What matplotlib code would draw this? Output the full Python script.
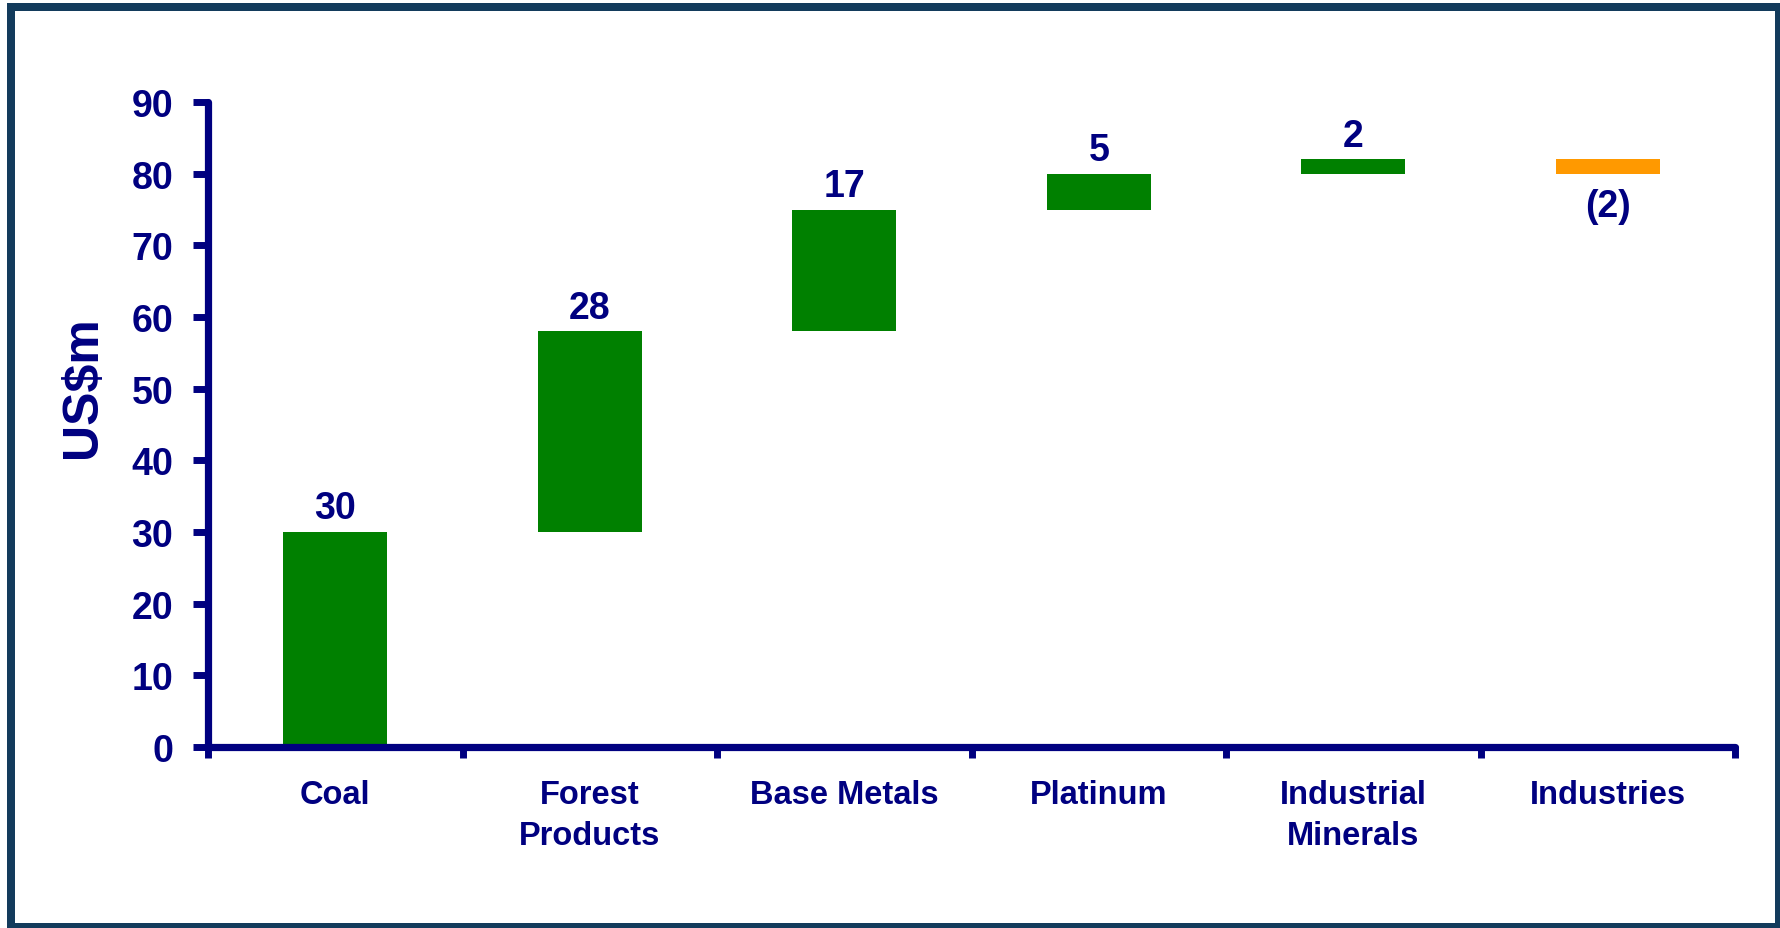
import numpy as np
import matplotlib
matplotlib.use("Agg")
import matplotlib.pyplot as plt
from matplotlib.patches import Rectangle

# --- data ---
categories = ["Coal", "Forest\nProducts", "Base Metals", "Platinum",
              "Industrial\nMinerals", "Industries"]
changes = [30, 28, 17, 5, 2, -2]
y_ticks = [0, 10, 20, 30, 40, 50, 60, 70, 80, 90]

NAVY = "#000080"
GREEN = "#008000"
ORANGE = "#FF9900"
FRAME = "#133B5C"

plt.rcParams["font.family"] = ["Liberation Sans", "DejaVu Sans"]
plt.rcParams["font.weight"] = "bold"

W, H = 1780, 929
fig = plt.figure(figsize=(W / 100, H / 100), dpi=100)
ax = fig.add_axes([208 / W, 1 - 748 / H, (1735 - 208) / W, (748 - 103) / H])

# waterfall: each bar starts where the previous one ended
changes = np.array(changes)
bottoms = np.concatenate([[0], np.cumsum(changes)[:-1]])
x = np.arange(len(categories))
colors = [GREEN if v >= 0 else ORANGE for v in changes]
ax.bar(x, changes, bottom=bottoms, width=0.41, color=colors, linewidth=0)

for xi, b, v in zip(x, bottoms, changes):
    if v >= 0:
        ax.annotate(f"{v}", (xi, b + v), xytext=(0, 4), textcoords="offset points",
                    ha="center", va="bottom", fontsize=27, color=NAVY,
                    fontweight="bold")
    else:
        ax.annotate(f"({-v})", (xi, b + v), xytext=(0, -10),
                    textcoords="offset points", ha="center", va="top",
                    fontsize=27, color=NAVY, fontweight="bold")

ax.set_xlim(-0.5, len(categories) - 0.5)
ax.set_ylim(0, 90)

# y axis
ax.set_yticks(y_ticks)
ax.tick_params(axis="y", direction="out", length=11, width=5, color=NAVY,
               labelsize=27, labelcolor=NAVY, pad=14)

# x axis: ticks on the boundaries, labels in the middle
ax.set_xticks(np.arange(-0.5, len(categories), 1.0))
ax.set_xticklabels([])
ax.tick_params(axis="x", which="major", direction="out", length=8, width=5,
               color=NAVY)
ax.set_xticks(x, minor=True)
ax.set_xticklabels(categories, minor=True, fontsize=23.5, color=NAVY,
                   fontweight="bold", linespacing=1.4)
ax.tick_params(axis="x", which="minor", length=0, pad=23)

for side in ("top", "right"):
    ax.spines[side].set_visible(False)
for side in ("left", "bottom"):
    ax.spines[side].set_linewidth(5.2)
    ax.spines[side].set_color(NAVY)
    ax.spines[side].set_capstyle("round")

ax.set_ylabel("US$m", fontsize=36, color=NAVY, fontweight="bold")
ax.yaxis.set_label_coords(-0.067, 0.56)

# dark frame round the whole picture
fig.patches.append(Rectangle((11 / W, 1 - 928 / H), (1779 - 11) / W, (928 - 8) / H,
                             transform=fig.transFigure, fill=False,
                             edgecolor=FRAME, linewidth=8 * 0.72))

fig.savefig("out.png", dpi=100)
